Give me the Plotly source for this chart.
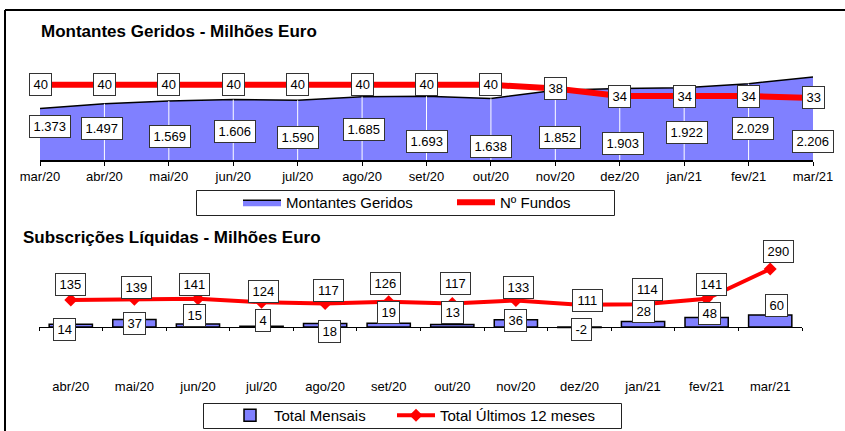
import plotly.graph_objects as go

W, H = 845, 431
FONT = "Arial, Liberation Sans, sans-serif"
BLUE = "#8080FF"
RED = "#FF0000"

# ---------------- data ----------------
months_top = ["mar/20", "abr/20", "mai/20", "jun/20", "jul/20", "ago/20", "set/20",
              "out/20", "nov/20", "dez/20", "jan/21", "fev/21", "mar/21"]
montantes = [1373, 1497, 1569, 1606, 1590, 1685, 1693, 1638, 1852, 1903, 1922, 2029, 2206]
n_fundos = [40, 40, 40, 40, 40, 40, 40, 40, 38, 34, 34, 34, 33]

months_bot = ["abr/20", "mai/20", "jun/20", "jul/20", "ago/20", "set/20",
              "out/20", "nov/20", "dez/20", "jan/21", "fev/21", "mar/21"]
total_mensais = [14, 37, 15, 4, 18, 19, 13, 36, -2, 28, 48, 60]
total_12m = [135, 139, 141, 124, 117, 126, 117, 133, 111, 114, 141, 290]

# ---------------- label placement (styling, px) ----------------
mont_lab_dy = [33.5, 32, 24, 28.5, 23, 30.5, 19, 14, 23, 17, 27.5, 32, 19]
mont_lab_dx = [9.5, -2.4, 0.7, 1.7, 0.3, 2.4, 0.5, 0.5, 4.6, 3.2, 2.8, 4.4, 0]
mens_lab_dy = [-2, 4, 12, 7, -4, 15, 15, 7, -2, 16, 14, 22]
mens_lab_dx = [-6, 0, -3, 1.5, 4, 0, 0, 0, 2, 0, 3, 6]
t12_lab_dy = [16, 12, 14, 11, 13, 18, 20, 13, 4, 15, 14, 18]
t12_lab_dx = [0, 2.6, -3, 1.5, 3, -3.7, 3.4, 3, 8, 4.5, 5, 8]


def fmt(v):
    return f"{v:,}".replace(",", ".")


def box_w(s):
    return sum(7.23 if c.isdigit() else (3.6 if c == "." else 4.3) for c in s) + 1


def px_x(p):
    return p / W


def px_y(p):
    return 1 - p / H


# plot areas
top_x = [px_x(40), px_x(813)]
top_y = [px_y(160), px_y(66)]
bot_x = [px_x(39), px_x(802)]
bot_y = [px_y(377), px_y(247)]
y3_range = [-250, 400]
zero_pos = bot_y[0] + (0 - y3_range[0]) / (y3_range[1] - y3_range[0]) * (bot_y[1] - bot_y[0])

fig = go.Figure()

# top: area
fig.add_trace(go.Scatter(
    x=months_top, y=montantes, mode="lines", fill="tozeroy",
    fillcolor=BLUE, line=dict(color="black", width=1.5),
    name="Montantes Geridos", xaxis="x", yaxis="y", legend="legend",
))
# white vertical grid lines inside area
gx, gy = [], []
for m, v in zip(months_top[1:-1], montantes[1:-1]):
    gx += [m, m, None]
    gy += [0, v, None]
fig.add_trace(go.Scatter(
    x=gx, y=gy, mode="lines", line=dict(color="white", width=1),
    showlegend=False, hoverinfo="skip", xaxis="x", yaxis="y",
))
# top: red line
fig.add_trace(go.Scatter(
    x=months_top, y=n_fundos, mode="lines", line=dict(color=RED, width=6),
    name="Nº Fundos", xaxis="x", yaxis="y2", legend="legend2",
))

# bottom: bars
fig.add_trace(go.Bar(
    x=months_bot, y=total_mensais, width=0.68,
    marker=dict(color=BLUE, line=dict(color="black", width=1.5)),
    name="Total Mensais", xaxis="x3", yaxis="y3", legend="legend3",
))
# bottom: red line with diamonds
fig.add_trace(go.Scatter(
    x=months_bot, y=total_12m, mode="lines+markers",
    line=dict(color=RED, width=4),
    marker=dict(symbol="diamond", size=10, color=RED),
    name="Total Últimos 12 meses", xaxis="x4", yaxis="y3", legend="legend4",
))

annotations = []
box_style = dict(showarrow=False, bgcolor="white", bordercolor="#333333", borderwidth=1,
                 borderpad=3, font=dict(family=FONT, size=13, color="black"),
                 xanchor="center", yanchor="middle")

for m, v, dy, dx in zip(months_top, montantes, mont_lab_dy, mont_lab_dx):
    t = fmt(v)
    annotations.append(dict(x=m, y=0, xref="x", yref="y", text=t, yshift=dy, xshift=dx,
                            width=box_w(t), **box_style))
for m, v in zip(months_top, n_fundos):
    t = str(v)
    annotations.append(dict(x=m, y=v, xref="x", yref="y2", text=t,
                            width=box_w(t), **box_style))
for m, v, dy, dx in zip(months_bot, total_mensais, mens_lab_dy, mens_lab_dx):
    t = str(v)
    annotations.append(dict(x=m, y=0, xref="x3", yref="y3", text=t, yshift=dy, xshift=dx,
                            width=box_w(t), **box_style))
for m, v, dy, dx in zip(months_bot, total_12m, t12_lab_dy, t12_lab_dx):
    t = str(v)
    annotations.append(dict(x=m, y=v, xref="x4", yref="y3", text=t, yshift=dy, xshift=dx,
                            width=box_w(t), **box_style))

# titles
annotations.append(dict(text="<b>Montantes Geridos - Milhões Euro</b>", xref="paper", yref="paper",
                        x=px_x(39), y=px_y(31), xanchor="left", yanchor="middle", showarrow=False,
                        font=dict(family=FONT, size=17, color="black")))
annotations.append(dict(text="<b>Subscrições Líquidas - Milhões Euro</b>", xref="paper", yref="paper",
                        x=px_x(21), y=px_y(237), xanchor="left", yanchor="middle", showarrow=False,
                        font=dict(family=FONT, size=17, color="black")))

shapes = [
    # outer frame
    dict(type="line", xref="paper", yref="paper", x0=px_x(5), x1=1, y0=px_y(10), y1=px_y(10),
         line=dict(color="black", width=2)),
    dict(type="line", xref="paper", yref="paper", x0=px_x(5), x1=px_x(5), y0=px_y(10), y1=0,
         line=dict(color="black", width=2)),
    # legend frames
    dict(type="rect", xref="paper", yref="paper", x0=px_x(196.5), x1=px_x(614.5), y0=px_y(215.5), y1=px_y(190.5),
         line=dict(color="#222222", width=1)),
    dict(type="rect", xref="paper", yref="paper", x0=px_x(203.5), x1=px_x(621.5), y0=px_y(428.5), y1=px_y(403.5),
         line=dict(color="#222222", width=1)),
]

tickfont = dict(family=FONT, size=13, color="black")
hidden_y = dict(showgrid=False, zeroline=False, showticklabels=False, showline=False, ticks="")
legfont = dict(family=FONT, size=15, color="black")


def leg(xp, yp):
    return dict(orientation="h", x=px_x(xp), y=px_y(yp), xanchor="left", yanchor="middle",
                bgcolor="rgba(0,0,0,0)", borderwidth=0, font=legfont, itemwidth=38)


fig.update_layout(
    width=W, height=H, margin=dict(l=0, r=0, t=0, b=0, autoexpand=False),
    paper_bgcolor="white", plot_bgcolor="rgba(0,0,0,0)",
    font=dict(family=FONT, color="black"),
    xaxis=dict(domain=top_x, type="category", categoryorder="array", categoryarray=months_top,
               range=[0, 12], anchor="y", showline=True, linecolor="black", linewidth=1.5,
               ticks="outside", ticklen=4, tickcolor="black", showgrid=False, tickfont=tickfont,
               layer="above traces"),
    yaxis=dict(domain=top_y, range=[0, 2500], anchor="x", **hidden_y),
    yaxis2=dict(overlaying="y", range=[0, 50], anchor="x", **hidden_y),
    xaxis3=dict(domain=bot_x, type="category", categoryorder="array", categoryarray=months_bot,
                range=[-0.5, 11.5], anchor="y3", showline=False, ticks="", showgrid=False,
                tickfont=tickfont),
    xaxis4=dict(overlaying="x3", type="category", categoryorder="array", categoryarray=months_bot,
                range=[-0.5, 11.5], anchor="free", position=zero_pos, showline=True,
                linecolor="black", linewidth=1, ticks="outside", ticklen=3, tickcolor="black",
                tickson="boundaries", showticklabels=False, showgrid=False),
    yaxis3=dict(domain=bot_y, range=y3_range, anchor="x3", **hidden_y),
    legend=leg(238, 202.5),
    legend2=leg(452, 202.5),
    legend3=leg(226, 415.5),
    legend4=leg(392, 415.5),
    annotations=annotations,
    shapes=shapes,
    showlegend=True,
)

fig.write_html("out.html", config={"displayModeBar": False},
               post_script="document.body.style.margin='0';")
